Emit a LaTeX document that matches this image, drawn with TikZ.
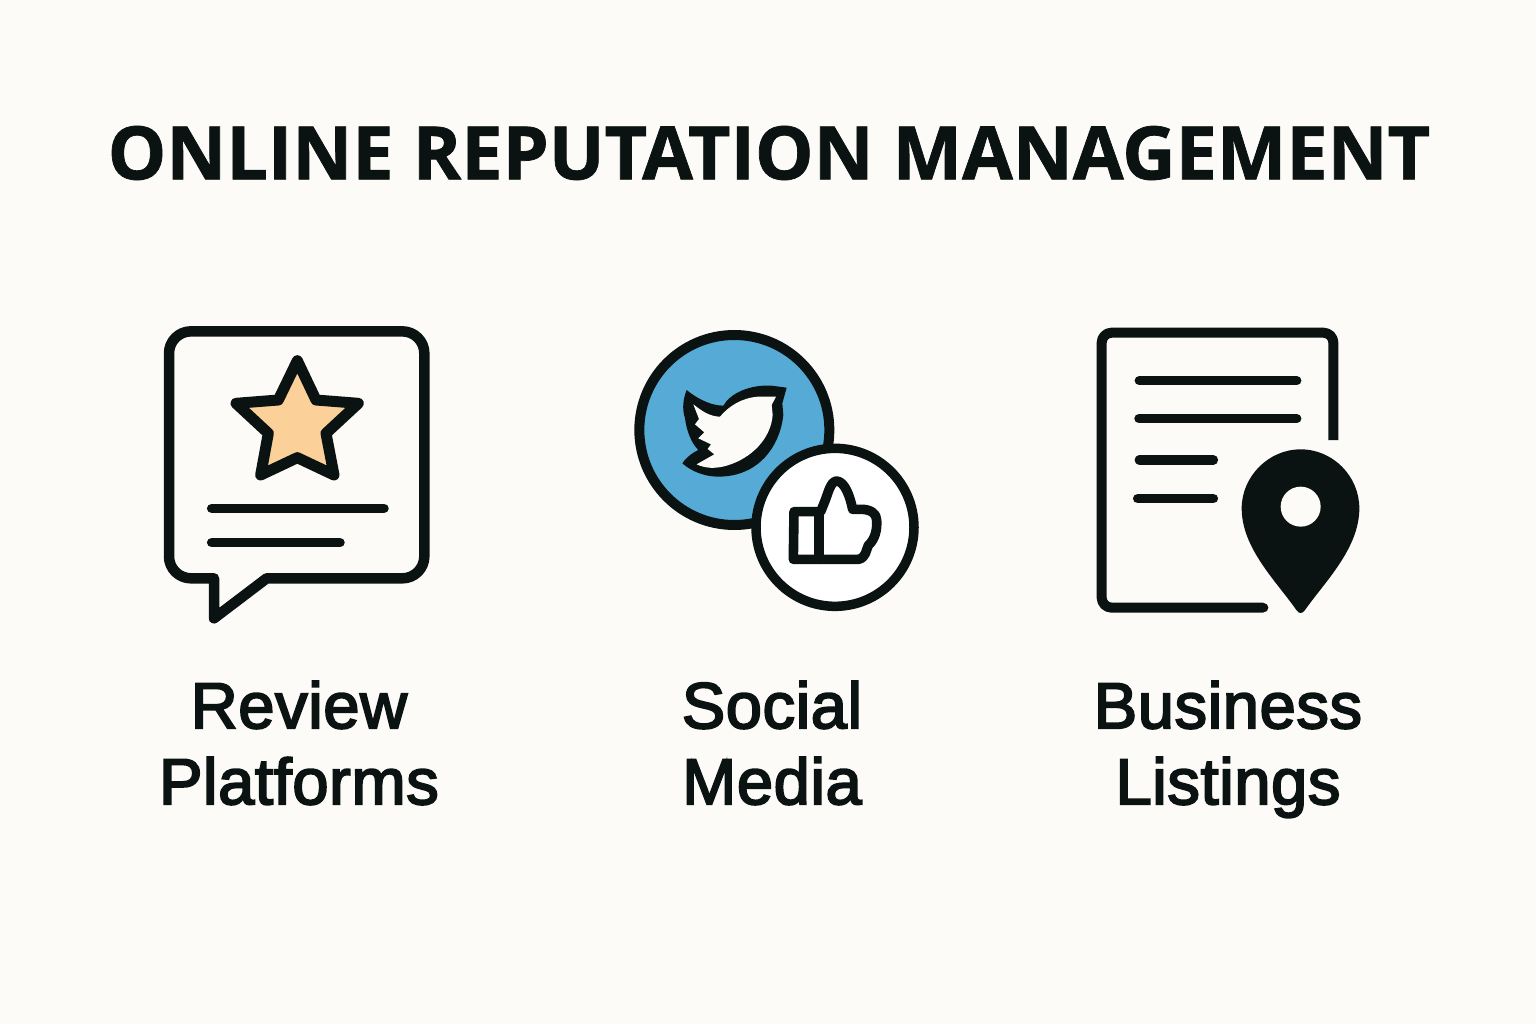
\documentclass[tikz,border=0pt]{standalone}
\usepackage{fontspec}
\newfontfamily\titlefont[BoldFeatures={FakeBold=1}]{Open Sans}
\newfontfamily\labelfont[BoldFont={Liberation Sans},BoldFeatures={FakeBold=3,LetterSpace=1}]{Liberation Sans}
\definecolor{ink}{HTML}{0B1212}
\definecolor{paper}{HTML}{FCFBF8}
\definecolor{starfill}{HTML}{FBD199}
\definecolor{birdblue}{HTML}{56ABD6}
\tikzset{
  titletext/.style={inner sep=0pt,text=ink,font=\titlefont\bfseries\fontsize{73.7}{73.7}\selectfont},
  labeltext/.style={inner sep=0pt,align=center,text=ink,font=\labelfont\bfseries\fontsize{65}{76}\selectfont},
  icon/.style={draw=ink,line width=10pt,line join=round,line cap=round},
  bar/.style={draw=ink,line width=9.5pt,line cap=round},
  zoomA/.style={shift={(150pt,-315pt)},x=0.33333pt,y=-0.33333pt},
  zoomB/.style={shift={(620pt,-320pt)},x=0.33333pt,y=-0.33333pt},
  zoomC/.style={shift={(1085pt,-315pt)},x=0.33333pt,y=-0.33333pt},
}
\begin{document}
\begin{tikzpicture}[x=1pt,y=-1pt]
\fill[paper] (0,0) rectangle (1536,1024);
\useasboundingbox (0,0) rectangle (1536,1024);
\node[titletext] (title) at (769,153) {ONLINE REPUTATION MANAGEMENT};
% review bubble
\begin{scope}[zoomA]
\draw[icon,line width=10.5pt] (192,790) [rounded corners=22pt] -- (57,790) -- (57,49) -- (823,49) -- (823,790) [sharp corners] -- (350,790) -- (192,910) -- cycle;
\draw[icon,fill=starfill,line width=11pt] (442,137) -- (498,255) -- (625,265) -- (528,355) -- (552,480) -- (442,428) -- (332,480) -- (355,355) -- (258,265) -- (385,255) -- cycle;
\draw[bar] (185,580) -- (702,580);
\draw[bar] (185,683) -- (570,683);
\end{scope}
% social
\begin{scope}[zoomB]
\node[circle,draw=ink,fill=birdblue,line width=10pt,minimum size=190pt,inner sep=0pt] (bigc) at (343,330) {};
\begin{scope}[shift={(165,165)}]
\fill[ink] (35,45) .. controls (55,62) and (100,92) .. (145,92)
  .. controls (165,55) and (225,28) .. (290,32) -- (335,38) -- (322,85) -- (325,120)
  .. controls (315,215) and (250,305) .. (130,305) .. controls (90,305) and (50,290) .. (22,265)
  .. controls (35,245) and (55,232) .. (70,225) .. controls (50,205) and (35,170) .. (30,130)
  .. controls (20,100) and (25,70) .. (35,45) -- cycle;
\fill[paper] (55,88) .. controls (80,108) and (105,125) .. (135,125)
  .. controls (160,95) and (200,68) .. (250,65) -- (303,65) -- (290,90) -- (293,120)
  .. controls (288,190) and (230,250) .. (155,272) .. controls (120,282) and (90,280) .. (65,268)
  -- (118,238) -- (98,222) -- (108,208) -- (70,190) -- (88,172) -- (60,148) -- (72,132) -- cycle;
\end{scope}
\node[circle,draw=ink,fill=white,line width=9.5pt,minimum size=158pt,inner sep=0pt] (smallc) at (645,622) {};
\begin{scope}[shift={(480,450)}]
\draw[icon,line width=9.6pt] (42,125) -- (117,125) -- (117,268) -- (40,268) -- cycle;
\draw[icon,line width=9.6pt] (117,268) -- (235,268) .. controls (258,264) and (258,240) .. (265,226)
  .. controls (285,208) and (292,180) .. (290,150) .. controls (290,130) and (270,118) .. (245,118)
  -- (218,118) .. controls (210,80) and (195,35) .. (170,33) .. controls (150,35) and (145,70) .. (132,100) -- (122,125);
\end{scope}
\end{scope}
% listing
\begin{scope}[zoomC]
\draw[icon,rounded corners=10pt,line cap=butt] (745,375) -- (745,53) -- (50,53) -- (50,878) -- (535,878);
\fill[ink] (535,864) rectangle (536,892) (536,878) circle[radius=14];
\draw[bar] (163,197) -- (635,197);
\draw[bar] (162,311) -- (635,311);
\draw[bar] (163,435) -- (385,435);
\draw[bar] (158,551) -- (385,551);
\fill[ink] (647,403) .. controls (745,403) and (823,485) .. (823,580) .. controls (823,700) and (720,800) .. (660,885)
  .. controls (652,897) and (642,897) .. (634,885) .. controls (575,800) and (470,700) .. (470,580) .. controls (470,485) and (550,403) .. (647,403) -- cycle;
\node[circle,fill=paper,minimum size=40pt,inner sep=0pt] (hole) at (647,575) {};
\end{scope}
\node[labeltext] (review) at (299,751) {\strut Review\\Platforms\strut};
\node[labeltext] (social) at (772,751) {\strut Social\\Media\strut};
\node[labeltext] (business) at (1228,751) {\strut Business\\Listings\strut};
\end{tikzpicture}
\end{document}
